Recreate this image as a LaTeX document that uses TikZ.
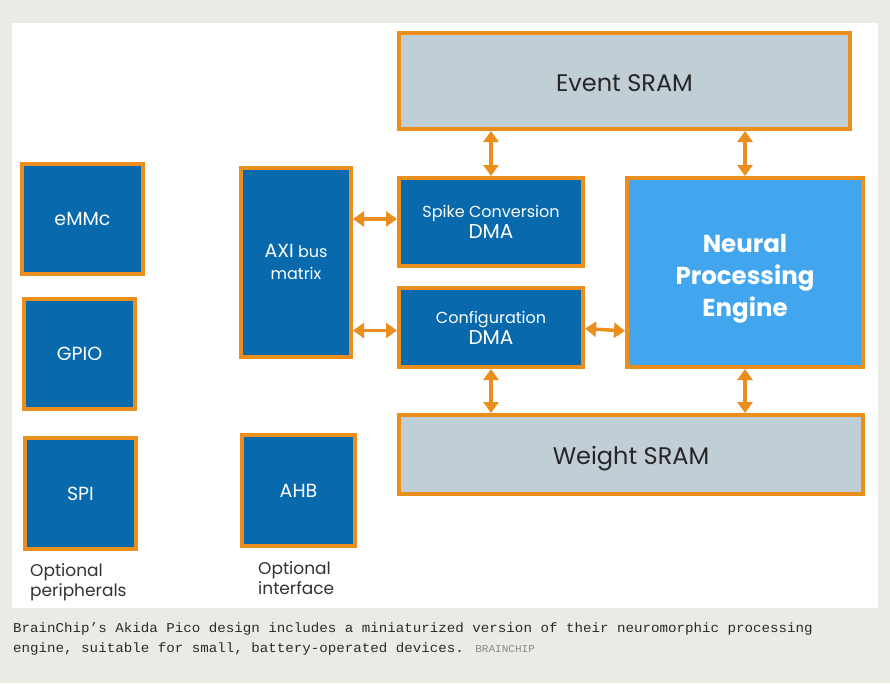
\documentclass[tikz,border=0pt]{standalone}
\usepackage{fontspec}
\setmainfont{Poppins}
\newfontfamily\capfont{Liberation Mono}
\usetikzlibrary{arrows.meta}
\definecolor{pagebg}{HTML}{EBEBE6}
\definecolor{orng}{HTML}{EA8E1E}
\definecolor{dblue}{HTML}{0869AD}
\definecolor{lblue}{HTML}{42A6EE}
\definecolor{sram}{HTML}{C1CED5}
\definecolor{captxt}{HTML}{2A2A2A}
\definecolor{credit}{HTML}{8A8A8A}
\tikzset{
  blk/.style={draw=orng, line width=4pt, fill=dblue, text=white, align=center, inner sep=0pt},
  mem/.style={draw=orng, line width=4pt, fill=sram, text=black!85, align=center, inner sep=0pt},
  memtext/.style={text=black!85, inner sep=0pt, font=\fontsize{24}{28}\selectfont},
  npebox/.style={draw=orng, line width=4pt, fill=lblue, inner sep=0pt},
  npetxt/.style={text=white, align=center, inner sep=0pt, font=\fontsize{24.5}{32}\selectfont\bfseries},
  arr/.style={draw=orng, line width=3.5pt, {Triangle[length=11pt,width=15pt]}-{Triangle[length=11pt,width=15pt]}, shorten <=0pt, shorten >=0pt},
  note/.style={text=black!80, align=left, inner sep=0pt, anchor=north west, font=\fontsize{17}{20}\selectfont},
  captext/.style={text=captxt, inner sep=0pt, anchor=base west}
}
\begin{document}
\begin{tikzpicture}[x=1pt,y=-1pt]
\fill[pagebg] (0,0) rectangle (890,683);
\useasboundingbox (0,0) rectangle (890,683);
\fill[white] (12,23) rectangle (878,608);
% memories
\node[mem, minimum width=451pt, minimum height=96pt] (event) at (624.5,81) {};
\node[memtext] (eventtext) at ([yshift=-2pt]event.center) {Event SRAM};
\node[mem, minimum width=464pt, minimum height=79pt] (weight) at (631,454.5) {};
\node[memtext] (weighttext) at ([yshift=-4pt]weight.center) {Weight SRAM};
% peripherals
\node[blk, minimum width=121pt, minimum height=110pt, font=\fontsize{19}{23}\selectfont] (emmc) at (82.5,219) {eMMc};
\node[blk, minimum width=111pt, minimum height=110pt, font=\fontsize{19}{23}\selectfont] (gpio) at (79.5,354) {GPIO};
\node[blk, minimum width=111pt, minimum height=111pt, font=\fontsize{19}{23}\selectfont] (spi) at (80.5,493.5) {SPI};
\node[blk, minimum width=113pt, minimum height=111pt, font=\fontsize{19}{23}\selectfont] (ahb) at (298.5,490.5) {AHB};
\node[blk, minimum width=110pt, minimum height=189pt, font=\fontsize{16}{22}\selectfont] (axi) at (296,262) {{\fontsize{19}{22}\selectfont AXI} bus\\matrix};
\node[blk, minimum width=184pt, minimum height=88pt, font=\fontsize{16}{21}\selectfont] (spike) at (491,222) {Spike Conversion\\{\fontsize{20}{21}\selectfont DMA}};
\node[blk, minimum width=184pt, minimum height=79pt, font=\fontsize{16}{21}\selectfont] (config) at (491,327.5) {Configuration\\{\fontsize{20}{21}\selectfont DMA}};
\node[npebox, minimum width=236pt, minimum height=189pt] (npe) at (745,272.5) {};
\node[npetxt] (npetext) at ([yshift=-6pt]npe.center) {Neural\\Processing\\Engine};
% connectors
\draw[arr] (spike.north |- event.south) -- (spike.north);
\draw[arr] (npe.north |- event.south) -- (npe.north);
\draw[arr] ([yshift=3pt]axi.east |- spike.west) -- ([yshift=3pt]spike.west);
\draw[arr] ([yshift=-3pt]axi.east |- config.west) -- ([yshift=-3pt]config.west);
\draw[arr] ([yshift=-1pt]config.east) -- ([yshift=-3.5pt]config.east -| npe.west);
\draw[arr] (config.south) -- (config.south |- weight.north);
\draw[arr] (npe.south) -- (npe.south |- weight.north);
% notes
\node[note] (optp) at (30,563) {Optional\\peripherals};
\node[note] (opti) at (258,561) {Optional\\interface};
% caption
\node[captext] (cap1) at (13,632) {\scalebox{1.05}[1]{\capfont\fontsize{13.5}{16}\selectfont BrainChip’s Akida Pico design includes a miniaturized version of their neuromorphic processing}};
\node[captext] (cap2) at (13,652) {\scalebox{1.05}[1]{\capfont\fontsize{13.5}{16}\selectfont engine, suitable for small, battery-operated devices. {\color{credit}\fontsize{10.5}{12}\selectfont BRAINCHIP}}};
\end{tikzpicture}
\end{document}
